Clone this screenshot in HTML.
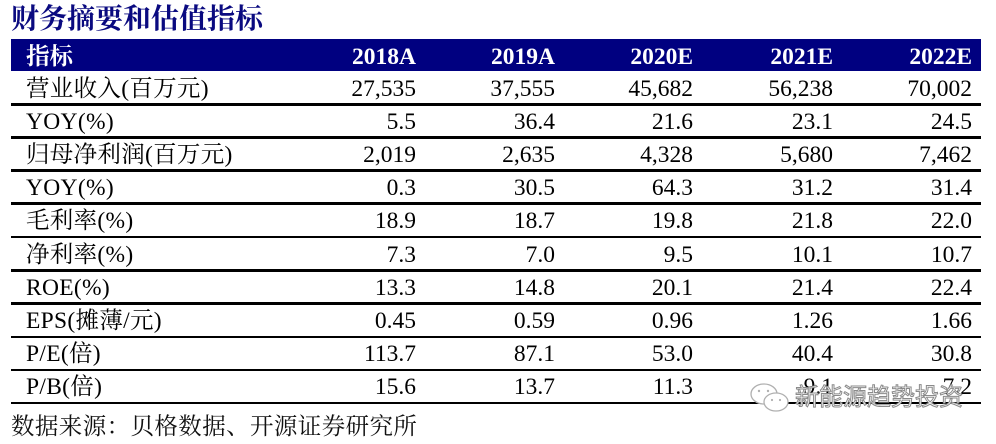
<!DOCTYPE html>
<html>
<head>
<meta charset="utf-8">
<style>
  html, body { margin:0; padding:0; }
  body { width:996px; height:444px; background:#fff; position:relative; overflow:hidden;
         font-family:"Liberation Serif","Noto Serif CJK SC",serif; color:#000; }
  .title { position:absolute; left:11px; top:6px; font-size:28px; line-height:28px; font-weight:bold;
           color:#0a0a80; font-family:"Liberation Serif","Noto Serif CJK SC",serif; letter-spacing:0px; white-space:nowrap; }
  .hbar { position:absolute; left:11px; top:39px; width:970px; height:32px; background:#000080; }
  .h { position:absolute; top:41px; height:32px; line-height:32px; font-size:23.5px; font-weight:bold; color:#fff; white-space:nowrap; }
  .line { position:absolute; left:11px; width:970px; height:2.6px; background:#000; }
  .c { position:absolute; height:33px; line-height:33px; font-size:23.5px; white-space:nowrap; }
  .lab { left:26px; letter-spacing:0.3px; }
  .n { width:140px; text-align:right; }
  .foot { position:absolute; left:11px; top:412px; font-size:23.5px; line-height:30px; white-space:nowrap;
          font-family:"Liberation Serif","Noto Serif CJK SC",serif; color:#111; letter-spacing:0.4px; }
  .wm { position:absolute; left:795px; top:384px; font-size:24px; line-height:28px; white-space:nowrap;
        font-family:"Liberation Sans","Noto Sans CJK SC",sans-serif; color:#fff;
        -webkit-text-stroke:1px #8a8a8a; }
  .icon { position:absolute; left:748px; top:380px; }
</style>
</head>
<body>
<div class="title">财务摘要和估值指标</div>
<div class="hbar"></div>
<div class="h" style="left:26px;font-family:'Liberation Serif','Noto Serif CJK SC',serif;">指标</div>
<div class="h n" style="left:276px;">2018A</div>
<div class="h n" style="left:415px;">2019A</div>
<div class="h n" style="left:553px;">2020E</div>
<div class="h n" style="left:693px;">2021E</div>
<div class="h n" style="left:832px;">2022E</div>

<!-- lines -->
<div class="line" style="top:103px"></div>
<div class="line" style="top:136px"></div>
<div class="line" style="top:169px"></div>
<div class="line" style="top:202px"></div>
<div class="line" style="top:235.5px"></div>
<div class="line" style="top:269px"></div>
<div class="line" style="top:302px"></div>
<div class="line" style="top:335.5px"></div>
<div class="line" style="top:368.5px"></div>
<div class="line" style="top:401.5px"></div>

<!-- rows -->
<div class="c lab" style="top:72.6px">营业收入(百万元)</div>
<div class="c n" style="top:72.6px;left:276px">27,535</div>
<div class="c n" style="top:72.6px;left:415px">37,555</div>
<div class="c n" style="top:72.6px;left:553px">45,682</div>
<div class="c n" style="top:72.6px;left:693px">56,238</div>
<div class="c n" style="top:72.6px;left:832px">70,002</div>

<div class="c lab" style="top:105.8px">YOY(%)</div>
<div class="c n" style="top:105.8px;left:276px">5.5</div>
<div class="c n" style="top:105.8px;left:415px">36.4</div>
<div class="c n" style="top:105.8px;left:553px">21.6</div>
<div class="c n" style="top:105.8px;left:693px">23.1</div>
<div class="c n" style="top:105.8px;left:832px">24.5</div>

<div class="c lab" style="top:139px">归母净利润(百万元)</div>
<div class="c n" style="top:139px;left:276px">2,019</div>
<div class="c n" style="top:139px;left:415px">2,635</div>
<div class="c n" style="top:139px;left:553px">4,328</div>
<div class="c n" style="top:139px;left:693px">5,680</div>
<div class="c n" style="top:139px;left:832px">7,462</div>

<div class="c lab" style="top:172.2px">YOY(%)</div>
<div class="c n" style="top:172.2px;left:276px">0.3</div>
<div class="c n" style="top:172.2px;left:415px">30.5</div>
<div class="c n" style="top:172.2px;left:553px">64.3</div>
<div class="c n" style="top:172.2px;left:693px">31.2</div>
<div class="c n" style="top:172.2px;left:832px">31.4</div>

<div class="c lab" style="top:205.4px">毛利率(%)</div>
<div class="c n" style="top:205.4px;left:276px">18.9</div>
<div class="c n" style="top:205.4px;left:415px">18.7</div>
<div class="c n" style="top:205.4px;left:553px">19.8</div>
<div class="c n" style="top:205.4px;left:693px">21.8</div>
<div class="c n" style="top:205.4px;left:832px">22.0</div>

<div class="c lab" style="top:238.6px">净利率(%)</div>
<div class="c n" style="top:238.6px;left:276px">7.3</div>
<div class="c n" style="top:238.6px;left:415px">7.0</div>
<div class="c n" style="top:238.6px;left:553px">9.5</div>
<div class="c n" style="top:238.6px;left:693px">10.1</div>
<div class="c n" style="top:238.6px;left:832px">10.7</div>

<div class="c lab" style="top:271.8px">ROE(%)</div>
<div class="c n" style="top:271.8px;left:276px">13.3</div>
<div class="c n" style="top:271.8px;left:415px">14.8</div>
<div class="c n" style="top:271.8px;left:553px">20.1</div>
<div class="c n" style="top:271.8px;left:693px">21.4</div>
<div class="c n" style="top:271.8px;left:832px">22.4</div>

<div class="c lab" style="top:305px">EPS(摊薄/元)</div>
<div class="c n" style="top:305px;left:276px">0.45</div>
<div class="c n" style="top:305px;left:415px">0.59</div>
<div class="c n" style="top:305px;left:553px">0.96</div>
<div class="c n" style="top:305px;left:693px">1.26</div>
<div class="c n" style="top:305px;left:832px">1.66</div>

<div class="c lab" style="top:338.2px">P/E(倍)</div>
<div class="c n" style="top:338.2px;left:276px">113.7</div>
<div class="c n" style="top:338.2px;left:415px">87.1</div>
<div class="c n" style="top:338.2px;left:553px">53.0</div>
<div class="c n" style="top:338.2px;left:693px">40.4</div>
<div class="c n" style="top:338.2px;left:832px">30.8</div>

<div class="c lab" style="top:371.4px">P/B(倍)</div>
<div class="c n" style="top:371.4px;left:276px">15.6</div>
<div class="c n" style="top:371.4px;left:415px">13.7</div>
<div class="c n" style="top:371.4px;left:553px">11.3</div>
<div class="c n" style="top:371.4px;left:693px">9.1</div>
<div class="c n" style="top:371.4px;left:832px">7.2</div>

<div class="foot">数据来源：贝格数据、开源证券研究所</div>

<!-- watermark -->
<svg class="icon" width="46" height="36" viewBox="0 0 46 36">
  <ellipse cx="16" cy="14" rx="13" ry="10" fill="#fff" stroke="#b0b0b0" stroke-width="1.3"/>
  <circle cx="11" cy="11" r="1.2" fill="#b0b0b0"/>
  <circle cx="20" cy="11" r="1.2" fill="#b0b0b0"/>
  <ellipse cx="28" cy="22" rx="12" ry="9" fill="#fff" stroke="#b0b0b0" stroke-width="1.3"/>
  <circle cx="24" cy="20" r="1.1" fill="#b0b0b0"/>
  <circle cx="32" cy="20" r="1.1" fill="#b0b0b0"/>
</svg>
<div class="wm">新能源趋势投资</div>
</body>
</html>
